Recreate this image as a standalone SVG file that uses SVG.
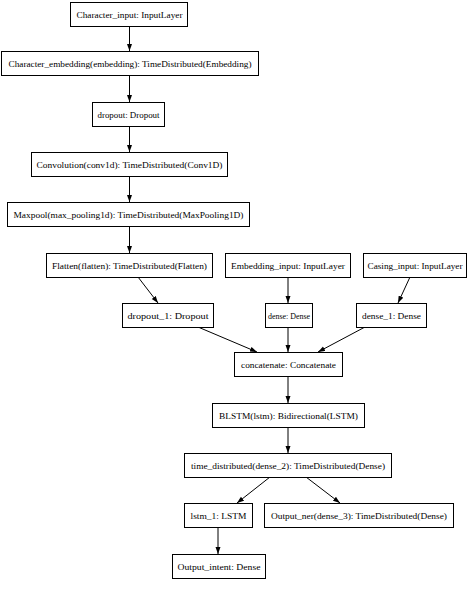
<svg xmlns="http://www.w3.org/2000/svg" width="472" height="614" viewBox="0 0 472 614">
<style>
.n rect{fill:#fff;stroke:#000;stroke-width:1}
.n text{font-family:"Liberation Serif","Times New Roman",serif;font-size:9px;fill:#000;text-anchor:middle}
.e line{stroke:#000;stroke-width:1;fill:none;marker-end:url(#ah)}
</style>
<defs>
<marker id="ah" markerUnits="userSpaceOnUse" markerWidth="8" markerHeight="6" refX="7" refY="2.5" orient="auto">
<path d="M0,0 L7,2.5 L0,5 z" fill="#000"/>
</marker>
</defs>
<rect width="472" height="614" fill="#fff"/>
<g id="edges" class="e">
<line x1="129.5" y1="26" x2="129.5" y2="51"/>
<line x1="129.5" y1="75" x2="129.5" y2="102"/>
<line x1="129.5" y1="126" x2="129.5" y2="152"/>
<line x1="129.5" y1="176" x2="129.5" y2="202"/>
<line x1="129.5" y1="227" x2="129.5" y2="253"/>
<line x1="138" y1="277" x2="158" y2="303"/>
<line x1="288" y1="277" x2="288" y2="303"/>
<line x1="410" y1="277" x2="398" y2="303"/>
<line x1="198" y1="327" x2="257" y2="352"/>
<line x1="288" y1="327" x2="288" y2="352"/>
<line x1="365" y1="327" x2="318" y2="352"/>
<line x1="288" y1="376" x2="288" y2="403"/>
<line x1="288" y1="427" x2="288" y2="453"/>
<line x1="270" y1="477" x2="237" y2="503"/>
<line x1="306" y1="477" x2="340" y2="503"/>
<line x1="218" y1="527" x2="218" y2="554"/>
</g>
<g id="character_input" class="n"><rect x="70.5" y="2.5" width="117" height="24"/><text x="129.5" y="17.5" textLength="106" lengthAdjust="spacingAndGlyphs">Character_input: InputLayer</text></g>
<g id="character_embedding" class="n"><rect x="1.5" y="51.5" width="257" height="24"/><text x="130" y="66.5" textLength="243" lengthAdjust="spacingAndGlyphs">Character_embedding(embedding): TimeDistributed(Embedding)</text></g>
<g id="dropout" class="n"><rect x="92.5" y="102.5" width="72" height="24"/><text x="128.5" y="117.5" textLength="62" lengthAdjust="spacingAndGlyphs">dropout: Dropout</text></g>
<g id="convolution" class="n"><rect x="31.5" y="152.5" width="196" height="24"/><text x="129.5" y="167.5" textLength="186" lengthAdjust="spacingAndGlyphs">Convolution(conv1d): TimeDistributed(Conv1D)</text></g>
<g id="maxpool" class="n"><rect x="7.5" y="202.5" width="242" height="24"/><text x="128.5" y="217.5" textLength="230" lengthAdjust="spacingAndGlyphs">Maxpool(max_pooling1d): TimeDistributed(MaxPooling1D)</text></g>
<g id="flatten" class="n"><rect x="46.5" y="253.5" width="166" height="24"/><text x="129.5" y="268.5" textLength="155" lengthAdjust="spacingAndGlyphs">Flatten(flatten): TimeDistributed(Flatten)</text></g>
<g id="embedding_input" class="n"><rect x="225.5" y="253.5" width="125" height="24"/><text x="288" y="268.5" textLength="114" lengthAdjust="spacingAndGlyphs">Embedding_input: InputLayer</text></g>
<g id="casing_input" class="n"><rect x="363.5" y="253.5" width="103" height="24"/><text x="415" y="268.5" textLength="95" lengthAdjust="spacingAndGlyphs">Casing_input: InputLayer</text></g>
<g id="dropout_1" class="n"><rect x="122.5" y="303.5" width="91" height="24"/><text x="168" y="318.5" textLength="81" lengthAdjust="spacingAndGlyphs">dropout_1: Dropout</text></g>
<g id="dense" class="n"><rect x="265.5" y="303.5" width="47" height="24"/><text x="289" y="318.5" textLength="42" lengthAdjust="spacingAndGlyphs">dense: Dense</text></g>
<g id="dense_1" class="n"><rect x="356.5" y="303.5" width="70" height="24"/><text x="391.5" y="318.5" textLength="59" lengthAdjust="spacingAndGlyphs">dense_1: Dense</text></g>
<g id="concatenate" class="n"><rect x="234.5" y="352.5" width="108" height="24"/><text x="288.5" y="367.5" textLength="95" lengthAdjust="spacingAndGlyphs">concatenate: Concatenate</text></g>
<g id="blstm" class="n"><rect x="212.5" y="403.5" width="152" height="24"/><text x="288.5" y="418.5" textLength="139" lengthAdjust="spacingAndGlyphs">BLSTM(lstm): Bidirectional(LSTM)</text></g>
<g id="time_distributed" class="n"><rect x="184.5" y="453.5" width="207" height="24"/><text x="288" y="468.5" textLength="194" lengthAdjust="spacingAndGlyphs">time_distributed(dense_2): TimeDistributed(Dense)</text></g>
<g id="lstm_1" class="n"><rect x="184.5" y="503.5" width="68" height="24"/><text x="218.5" y="518.5" textLength="56" lengthAdjust="spacingAndGlyphs">lstm_1: LSTM</text></g>
<g id="output_ner" class="n"><rect x="264.5" y="503.5" width="189" height="24"/><text x="359" y="518.5" textLength="176" lengthAdjust="spacingAndGlyphs">Output_ner(dense_3): TimeDistributed(Dense)</text></g>
<g id="output_intent" class="n"><rect x="172.5" y="554.5" width="93" height="24"/><text x="219" y="569.5" textLength="83" lengthAdjust="spacingAndGlyphs">Output_intent: Dense</text></g>
</svg>
